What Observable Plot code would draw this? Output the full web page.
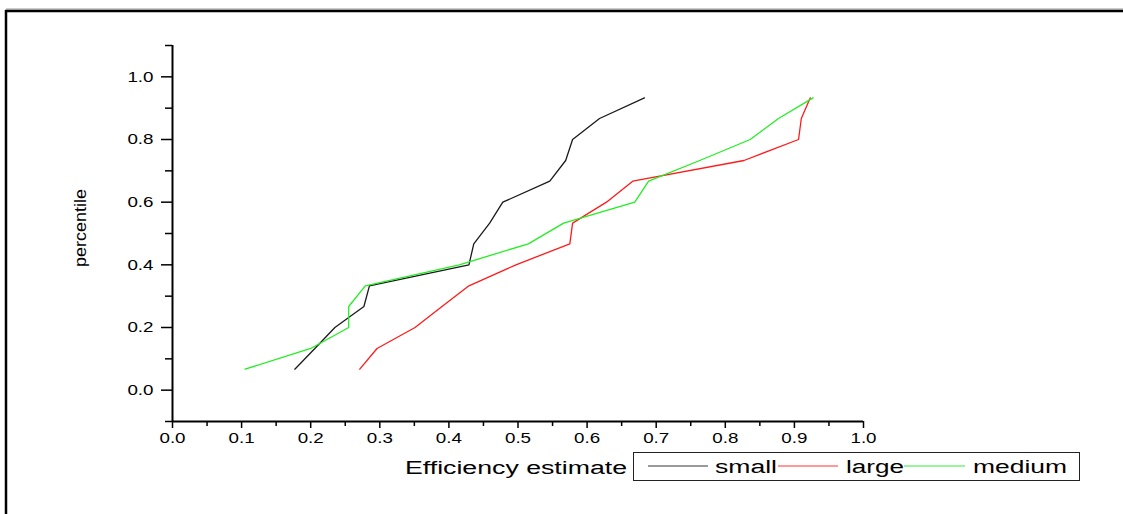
<!DOCTYPE html>
<html>
<head>
<meta charset="utf-8">
<script src="https://cdn.jsdelivr.net/npm/d3@7"></script>
<script src="https://cdn.jsdelivr.net/npm/@observablehq/plot@0.6"></script>
<style>
  html, body { margin: 0; padding: 0; background: #fff; }
  #chart { width: 1123px; height: 514px; overflow: hidden; }
</style>
</head>
<body>
<div id="chart"></div>
<script>
// ---- data ----
const seriesNames = ["small", "large", "medium"];
const seriesColors = ["#1a1a1a", "#ff1a1a", "#22ee22"];
const percentile = [0.067, 0.133, 0.2, 0.267, 0.333, 0.4, 0.467, 0.533, 0.6, 0.667, 0.733, 0.8, 0.867, 0.933];
const smallEff  = [0.177, 0.206, 0.235, 0.277, 0.285, 0.429, 0.436, 0.459, 0.478, 0.546, 0.569, 0.579, 0.618, 0.683];
const largeEff  = [0.271, 0.296, 0.351, 0.390, 0.429, 0.497, 0.575, 0.579, 0.628, 0.666, 0.827, 0.906, 0.910, 0.923];
const mediumEff = [0.105, 0.200, 0.255, 0.255, 0.279, 0.415, 0.515, 0.566, 0.669, 0.689, 0.763, 0.836, 0.877, 0.927];
const xMajorTicks = [0, 0.1, 0.2, 0.3, 0.4, 0.5, 0.6, 0.7, 0.8, 0.9, 1.0];
const xMinorTicks = [0.05, 0.15, 0.25, 0.35, 0.45, 0.55, 0.65, 0.75, 0.85, 0.95];
const yMajorTicks = [0, 0.2, 0.4, 0.6, 0.8, 1.0];
const yMinorTicks = [-0.1, 0.1, 0.3, 0.5, 0.7, 0.9, 1.1];
const xLabel = "Efficiency estimate";
const yLabel = "percentile";

const effBySeries = [smallEff, largeEff, mediumEff];
const rows = seriesNames.flatMap((s, i) =>
  percentile.map((p, j) => ({series: s, eff: effBySeries[i][j], pct: p})));

const W = 1123, H = 514;
const svg = Plot.plot({
  width: W, height: H,
  marginLeft: 172, marginRight: 260, marginTop: 45, marginBottom: 93,
  x: {domain: [0, 1]},
  y: {domain: [-0.1, 1.1]},
  color: {domain: seriesNames, range: seriesColors},
  style: {fontFamily: "'Liberation Sans', Arial, sans-serif", background: "#fff", color: "#000"},
  marks: [
    Plot.axisY(yMajorTicks, {tickSize: 11, tickPadding: 8, tickFormat: d3.format(".1f"), fontSize: 15, strokeWidth: 1.5, label: null}),
    Plot.axisY(yMinorTicks, {tickSize: 7, tickFormat: () => "", strokeWidth: 1.5, label: null}),
    Plot.axisX(xMajorTicks, {tickSize: 7, tickPadding: 4, tickFormat: d3.format(".1f"), fontSize: 15, strokeWidth: 1.5, label: null}),
    Plot.axisX(xMinorTicks, {tickSize: 5, tickFormat: () => "", strokeWidth: 1.5, label: null}),
    Plot.ruleX([0], {stroke: "#000", strokeWidth: 2}),
    Plot.ruleY([-0.1], {stroke: "#000", strokeWidth: 2}),
    Plot.line(rows, {x: "eff", y: "pct", z: "series", stroke: "series", strokeWidth: 1.3})
  ]
});
document.getElementById("chart").appendChild(svg);

// stretch axis tick labels horizontally (original font is wide)
d3.select(svg).selectAll("g[aria-label='y-axis tick label'] text, g[aria-label='x-axis tick label'] text")
  .each(function() {
    const len = this.getComputedTextLength();
    if (len > 0) {
      this.setAttribute("textLength", (len * 1.25).toFixed(1));
      this.setAttribute("lengthAdjust", "spacingAndGlyphs");
    }
  });

const g = d3.select(svg).append("g")
  .attr("font-family", "'Liberation Sans', Arial, sans-serif")
  .attr("fill", "#000").attr("text-anchor", "start");

// outer frame
g.append("line").attr("x1", 6).attr("x2", W).attr("y1", 9).attr("y2", 9).attr("stroke", "#999").attr("stroke-width", 1);
g.append("line").attr("x1", 5).attr("x2", W).attr("y1", 11).attr("y2", 11).attr("stroke", "#000").attr("stroke-width", 2.5);
g.append("line").attr("x1", 6).attr("x2", 6).attr("y1", 10).attr("y2", H).attr("stroke", "#000").attr("stroke-width", 2.5);

// y label
g.append("text").text(yLabel)
  .attr("transform", "translate(86,228) rotate(-90)")
  .attr("text-anchor", "middle").attr("font-size", 16)
  .attr("textLength", 78).attr("lengthAdjust", "spacingAndGlyphs");

// x label
g.append("text").text(xLabel)
  .attr("x", 405).attr("y", 474).attr("font-size", 18)
  .attr("textLength", 222).attr("lengthAdjust", "spacingAndGlyphs");

// legend
g.append("rect").attr("x", 633.5).attr("y", 452.5).attr("width", 446).attr("height", 28)
  .attr("fill", "#fff").attr("stroke", "#222").attr("stroke-width", 1);
const legendLayout = [
  {x1: 648, x2: 708, tx: 715, tw: 62},
  {x1: 778, x2: 838, tx: 846, tw: 58},
  {x1: 904, x2: 965, tx: 973, tw: 94}
];
const legendSwatch = ["#999999", "#ff9999", "#99f599"];
seriesNames.forEach((s, i) => {
  const L = legendLayout[i];
  g.append("line").attr("x1", L.x1).attr("x2", L.x2).attr("y1", 466).attr("y2", 466)
    .attr("stroke", legendSwatch[i]).attr("stroke-width", 1.8);
  g.append("text").text(s).attr("x", L.tx).attr("y", 473).attr("font-size", 18)
    .attr("textLength", L.tw).attr("lengthAdjust", "spacingAndGlyphs");
});
</script>
</body>
</html>
